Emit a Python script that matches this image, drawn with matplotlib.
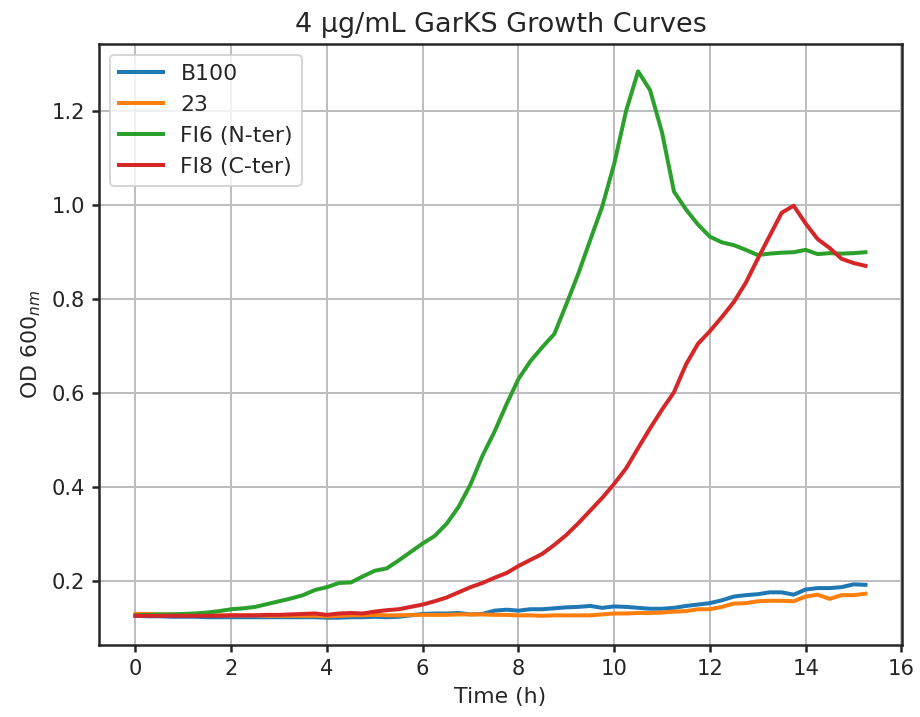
import numpy as np
import matplotlib
matplotlib.use('Agg')
from matplotlib import pyplot as plt

# time points (h), one reading every 15 min
time_h = np.arange(0, 15.5, 0.25)

b100 = [0.125, 0.124, 0.124, 0.123, 0.123, 0.123, 0.122, 0.122, 0.122, 0.122,
        0.122, 0.122, 0.122, 0.122, 0.122, 0.122, 0.121, 0.121, 0.122, 0.122,
        0.123, 0.122, 0.123, 0.126, 0.129, 0.130, 0.130, 0.131, 0.128, 0.129,
        0.136, 0.138, 0.136, 0.139, 0.139, 0.141, 0.143, 0.144, 0.146, 0.142,
        0.145, 0.144, 0.142, 0.140, 0.140, 0.142, 0.146, 0.149, 0.152, 0.158,
        0.166, 0.169, 0.171, 0.175, 0.175, 0.170, 0.181, 0.184, 0.184, 0.186,
        0.192, 0.191]

s23 = [0.129, 0.129, 0.128, 0.128, 0.127, 0.127, 0.127, 0.126, 0.126, 0.126,
       0.126, 0.125, 0.125, 0.125, 0.125, 0.125, 0.124, 0.125, 0.126, 0.126,
       0.127, 0.126, 0.126, 0.127, 0.127, 0.127, 0.127, 0.128, 0.128, 0.128,
       0.127, 0.127, 0.126, 0.126, 0.125, 0.126, 0.126, 0.126, 0.126, 0.128,
       0.130, 0.130, 0.131, 0.131, 0.132, 0.134, 0.135, 0.139, 0.139, 0.144,
       0.151, 0.152, 0.156, 0.157, 0.157, 0.156, 0.166, 0.170, 0.161, 0.169,
       0.169, 0.172]

fi6 = [0.126, 0.127, 0.128, 0.128, 0.129, 0.130, 0.132, 0.135, 0.139, 0.141,
       0.144, 0.150, 0.156, 0.162, 0.169, 0.180, 0.186, 0.195, 0.196, 0.209,
       0.221, 0.226, 0.243, 0.261, 0.279, 0.295, 0.321, 0.357, 0.405, 0.466,
       0.517, 0.575, 0.629, 0.667, 0.697, 0.725, 0.788, 0.853, 0.925, 0.996,
       1.087, 1.200, 1.284, 1.244, 1.154, 1.028, 0.990, 0.958, 0.932, 0.920,
       0.914, 0.904, 0.893, 0.896, 0.898, 0.899, 0.904, 0.895, 0.897, 0.896,
       0.897, 0.899]

fi8 = [0.125, 0.125, 0.125, 0.125, 0.125, 0.125, 0.125, 0.125, 0.126, 0.126,
       0.126, 0.127, 0.127, 0.128, 0.129, 0.130, 0.127, 0.130, 0.131, 0.130,
       0.134, 0.137, 0.139, 0.144, 0.149, 0.156, 0.164, 0.175, 0.186, 0.195,
       0.206, 0.216, 0.231, 0.244, 0.257, 0.276, 0.297, 0.322, 0.349, 0.376,
       0.406, 0.439, 0.482, 0.524, 0.564, 0.601, 0.660, 0.704, 0.731, 0.761,
       0.793, 0.834, 0.885, 0.934, 0.983, 0.998, 0.960, 0.927, 0.908, 0.885,
       0.876, 0.870]

plt.rcParams.update({
    'font.family': ['DejaVu Sans'],
    'font.size': 11,
    'axes.edgecolor': '#262626',
    'axes.linewidth': 1.25,
    'axes.titlesize': 13.5,
    'axes.labelsize': 11,
    'axes.labelcolor': '#262626',
    'xtick.labelsize': 10.5,
    'ytick.labelsize': 10.5,
    'xtick.color': '#262626',
    'ytick.color': '#262626',
    'xtick.major.size': 3.5,
    'ytick.major.size': 3.5,
    'xtick.major.width': 1.25,
    'ytick.major.width': 1.25,
    'legend.fontsize': 11,
    'text.color': '#262626',
})

fig = plt.figure(figsize=(920/144, 717/144), dpi=144)
ax = fig.add_axes([0.1076, 0.1004, 0.8728, 0.8382])

lw = 2.0
ax.plot(time_h, b100, color='#1f77b4', lw=lw, label='B100')
ax.plot(time_h, s23, color='#ff7f0e', lw=lw, label='23')
ax.plot(time_h, fi6, color='#2ca02c', lw=lw, label='FI6 (N-ter)')
ax.plot(time_h, fi8, color='#d62728', lw=lw, label='FI8 (C-ter)')

ax.grid(True, color='#bdbdc2', lw=1.0)
ax.set_axisbelow(True)
ax.set_xticks([0, 2, 4, 6, 8, 10, 12, 14, 16])

ax.set_title('4 μg/mL GarKS Growth Curves')
ax.set_xlabel('Time (h)')
ax.set_ylabel('OD 600$_{nm}$')
ax.legend(loc='upper left', edgecolor='#cccccc', framealpha=0.8)

fig.savefig('out.png', dpi=144)
